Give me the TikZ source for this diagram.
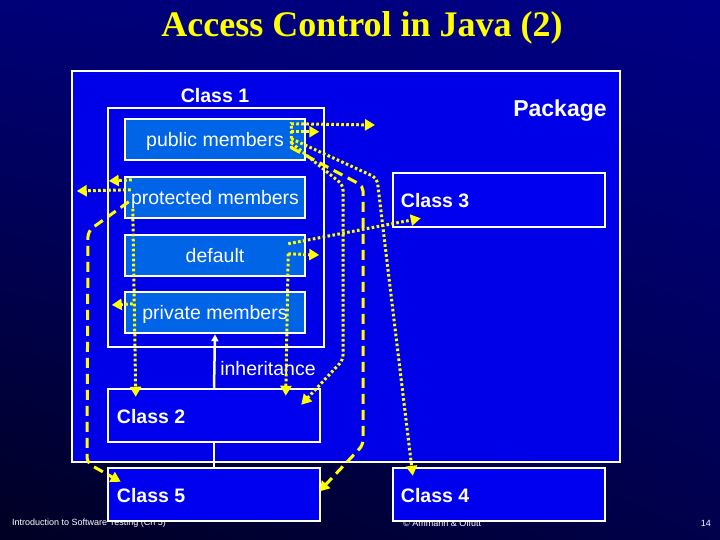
\documentclass[tikz,border=0pt]{standalone}
\usepackage{fontspec}
\setmainfont{Liberation Sans}
\newfontfamily\titlefont{Liberation Serif}
\usetikzlibrary{arrows.meta,calc,shadings}
\definecolor{yel}{RGB}{255,255,0}
\definecolor{pkgblue}{RGB}{0,0,232}
\definecolor{clsblue}{RGB}{0,0,240}
\definecolor{membblue}{RGB}{0,100,230}
\definecolor{bgul}{RGB}{0,0,120}
\definecolor{bgur}{RGB}{0,0,135}
\definecolor{bgll}{RGB}{0,0,35}
\definecolor{bglr}{RGB}{0,0,75}
\tikzset{
  box/.style={draw=white, line width=2.5pt, inner sep=0pt, text=white},
  member/.style={box, fill=membblue, minimum width=180pt, minimum height=41pt, text depth=0pt, font=\fontsize{19.5}{22}\selectfont},
  clsbox/.style={box, fill=clsblue, minimum width=212pt, minimum height=53pt},
  blabel/.style={text=white, inner sep=0pt, font=\fontsize{19.5}{22}\selectfont\bfseries},
  dotln/.style={draw=yel, line width=3pt, dash pattern=on 2.6pt off 2.4pt},
  dashln/.style={draw=yel, line width=3pt, dash pattern=on 10pt off 6pt},
  ytip/.style={-{Triangle[length=10pt,width=11pt]}},
  footer/.style={text=white, inner sep=0pt, font=\fontsize{9}{10}\selectfont},
}
\begin{document}
\begin{tikzpicture}[x=1pt,y=-1pt]
\useasboundingbox (0,0) rectangle (720,540);
\shade[upper left=bgul, upper right=bgur, lower left=bgll, lower right=bglr]
  (0,0) rectangle (720,540);
% title
\node[text=yel, inner sep=0pt, anchor=base, font=\titlefont\fontsize{36}{40}\selectfont\bfseries] (title) at (362,37) {Access Control in Java (2)};
% footer
\node[footer, anchor=west] (foot1) at (12,523) {Introduction to Software Testing (Ch 5)};
\node[footer, anchor=west] (foot2) at (403,523) {© Ammann \& Offutt};
\node[footer, anchor=east] (foot3) at (711,523) {14};
% package
\node[box, fill=pkgblue, minimum width=548pt, minimum height=391pt] (pkg) at (346,266.5) {};
\node[blabel, anchor=base, font=\fontsize{23}{26}\selectfont\bfseries] (pkglbl) at (560,117) {Package};
% class 1
\node[box, fill=pkgblue, minimum width=216pt, minimum height=239pt] (c1) at (216,227.5) {};
\node[blabel] (c1lbl) at (215,96) {Class 1};
\node[member] (pub) at (215,139.5) {public members};
\node[member] (prot) at (215,197.5) {protected members};
\node[member] (def) at (215,255.5) {default};
\node[member] (priv) at (215,312.5) {private members};
% other classes
\node[clsbox, minimum height=54pt] (c3) at (499,200) {};
\node[blabel, anchor=west] (c3lbl) at ($(c3.west)+(9,1)$) {Class 3};
\node[clsbox] (c2) at (214,415.5) {};
\node[blabel, anchor=west] (c2lbl) at ($(c2.west)+(10,1)$) {Class 2};
\node[clsbox] (c5) at (214,494.5) {};
\node[blabel, anchor=west] (c5lbl) at ($(c5.west)+(10,1)$) {Class 5};
\node[clsbox] (c4) at (499,494.5) {};
\node[blabel, anchor=west] (c4lbl) at ($(c4.west)+(9,1)$) {Class 4};
% inheritance
\node[text=white, inner sep=0pt, font=\fontsize{19.5}{22}\selectfont] (inh) at (268,369) {inheritance};
\draw[white, line width=2.5pt, -{Triangle[length=7pt,width=7pt]}] (c2.north) -- (priv.south);
\draw[white, line width=2.5pt] (c2.south) -- (c5.north);
% public member connectors
\draw[dotln, ytip] ($(pub.north east)+(-15,31)$) -- ($(pub.north east)+(-15,6)$) -- (375,125);
\draw[dotln, ytip] ($(pub.north east)+(-15,14)$) -- ($(c1.north east)+(-6,25)$);
\draw[dotln, ytip, rounded corners=5pt] ($(pub.north east)+(-15,25)$) -- (343,185) -- (343,360) -- ($(c2.north east)+(-20,17)$);
\draw[dashln, ytip, rounded corners=5pt] ($(pub.north east)+(-15,30)$) -- (363,186) -- (363,445) -- ($(c5.east)+(-2,-3)$);
\draw[dotln, ytip, rounded corners=5pt] ($(pub.north east)+(-15,21)$) -- (377,178) -- ($(c4.north west)+(21,9)$);
% protected member connectors
\draw[dotln, ytip] ($(prot.north west)+(8,4)$) -- ($(c1.west)+(2,-46.5)$);
\draw[dotln, ytip] ($(prot.north west)+(7,14)$) -- ($(pkg.west)+(6,-75.5)$);
\draw[dotln, ytip] ($(prot.north west)+(9,33)$) -- ($(c2.north west)+(29,9)$);
\draw[dashln, ytip, rounded corners=6pt] ($(prot.north west)+(5,26)$) -- (88,231) -- (87,463) -- ($(c5.north west)+(14,15)$);
% default connectors
\draw[dotln, ytip] ($(def.north east)+(-18,10)$) -- ($(c3.south west)+(29,-10)$);
\draw[dotln, ytip] ($(def.north east)+(-18,20)$) -- ($(c1.east)+(-6,27.5)$);
\draw[dotln, ytip] ($(def.north east)+(-18,20)$) -- ($(c2.north west)+(179,8)$);
% private connector
\draw[dotln, ytip] ($(priv.north west)+(9,13)$) -- ($(c1.west)+(5,77.5)$);
\end{tikzpicture}
\end{document}
